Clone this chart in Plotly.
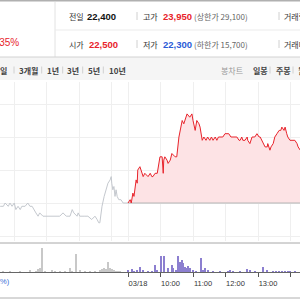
import plotly.graph_objects as go

# ---------------- data ----------------
base_price = 22500          # level the red area is filled from
prev_times = ["11:34","11:40","11:43","11:49","11:52","11:56","12:00","12:03","12:07","12:11",
              "12:14","12:20","12:25","12:29","12:33","12:36","12:40","12:44","12:47","12:53",
              "12:57","13:00","13:06","13:11","13:17","13:24","13:30","13:36","13:43","13:47",
              "13:50","13:56","13:58","14:01","14:09","14:16","14:23","14:29","14:33","14:36",
              "14:38","14:42","14:46","14:49","14:53","14:57","14:59","15:00","15:02","15:04",
              "15:06","15:08","15:10","15:13","15:17","15:21","15:26","15:30"]
prev_prices = [22450,22450,22500,22450,22500,22450,22500,22400,22450,22400,
               22450,22450,22500,22450,22450,22400,22350,22300,22350,22300,
               22300,22300,22300,22300,22300,22300,22350,22300,22300,22400,
               22350,22300,22350,22300,22300,22300,22250,22300,22250,22200,
               22200,22450,22600,22700,22800,22850,22900,22800,22700,22750,
               22600,22700,22600,22550,22550,22500,22500,22500]

today_times = ["09:00","09:04","09:06","09:09","09:11","09:15","09:17","09:18","09:22","09:24",
               "09:28","09:31","09:37","09:41","09:44","09:46","09:50","09:54","09:57","09:59",
               "10:03","10:05","10:06","10:08","10:12","10:14","10:18","10:21","10:27","10:30",
               "10:34","10:38","10:40","10:43","10:45","10:49","10:54","10:58","11:00","11:04",
               "11:07","11:11","11:13","11:17","11:20","11:24","11:27","11:31","11:34","11:37",
               "11:41","11:44","11:47","11:50","11:55","11:59","12:03","12:06","12:10","12:14",
               "12:17","12:21","12:25","12:27","12:30","12:32","12:36","12:40","12:41","12:45",
               "12:49","12:51","12:54","12:58","13:02","13:04","13:07","13:09","13:13","13:17",
               "13:18","13:22","13:24","13:28","13:31","13:35","13:39","13:42","13:44","13:48",
               "13:50","13:53","13:55","13:59","14:03","14:08","14:12","14:14","14:18"]
today_prices = [22500,22550,22500,22650,22600,22850,22800,23000,23050,23000,
                22900,22950,22900,22950,22900,22900,22950,22950,23150,23200,
                23200,22950,23150,23200,23150,23100,23150,23250,23200,23200,
                23500,23700,23750,23700,23750,23850,23800,23850,23750,23600,
                23750,23700,23650,23450,23500,23450,23500,23450,23500,23450,
                23500,23450,23500,23500,23500,23550,23550,23550,23500,23500,
                23500,23500,23450,23450,23500,23450,23450,23500,23450,23400,
                23500,23500,23500,23550,23500,23500,23450,23400,23350,23350,
                23400,23300,23350,23400,23500,23550,23600,23600,23650,23600,
                23650,23550,23500,23450,23450,23450,23400,23350,23300]

prev_vol_times = ["11:39","11:52","12:11","12:29","12:40","12:44","12:48","12:51","12:57","13:10",
                  "13:15","13:24","13:34","13:43","13:47","13:54","14:01","14:11","14:20","14:29",
                  "14:38","14:42","14:46","14:49","14:53","14:57","15:00","15:04","15:08","15:12","15:15"]
prev_vols = [1,1,1,2,1,3,4,24,1,2,
             1,1,1,4,1,18,2,1,1,1,
             2,3,4,3,10,4,3,2,1,1,1]
today_vol_times = ["09:00","09:07","09:11","09:16","09:22","09:28","09:37","09:44","09:50","09:53",
                   "10:01","10:06","10:14","10:21","10:23","10:29","10:33","10:36","10:39","10:42",
                   "10:45","10:48","10:51","10:54","11:00","11:06","11:15","11:18","11:22","11:28",
                   "11:37","11:50","12:05","12:08","12:14","12:27","12:40","12:45","12:54","13:09",
                   "13:16","13:28","13:33","13:39","13:44","13:50","13:55","13:59","14:08"]
today_vols = [2,3,1,2,5,2,1,1,7,2,
              16,16,4,7,4,2,16,10,12,9,
              5,4,6,4,2,1,14,2,4,2,
              1,1,1,2,1,1,3,2,1,5,
              2,1,1,1,1,1,1,1,1]

tick_times = ["09:00","10:00","11:00","12:00","13:00","14:00"]
tick_labels = ["03/18","10:00","11:00","12:00","13:00","14:00"]
prev_grid_times = ["12:00","13:00","14:00","15:00"]

# ---------------- helpers ----------------
def today_x(s):
    h, m = map(int, s.split(":"))
    return (h - 9) * 60 + m

def prev_x(s):
    h, m = map(int, s.split(":"))
    return h * 60 + m - (15 * 60 + 30)

def PX(x):
    return x / 300.0

def PY(y):
    return 1 - y / 300.0

RED = "#e8232b"
BLUE = "#2a5bd7"
KR = "Noto Sans CJK KR"
NUM = "Arial"

fig = go.Figure()

tx = [today_x(t) for t in today_times]
fig.add_trace(go.Scatter(x=[prev_x(t) for t in prev_times], y=prev_prices, mode="lines",
                         line=dict(color="#c4c8ce", width=1), hoverinfo="skip"))
fig.add_trace(go.Scatter(x=[tx[0], tx[-1]], y=[base_price, base_price], mode="lines",
                         line=dict(color="#b4b4b4", width=1), hoverinfo="skip"))
fig.add_trace(go.Scatter(x=tx, y=today_prices, mode="lines", fill="tonexty",
                         fillcolor="#fde3e5", line=dict(color=RED, width=1), hoverinfo="skip"))

fig.add_trace(go.Bar(x=[prev_x(t) for t in prev_vol_times], y=prev_vols, width=1.8,
                     marker=dict(color="#c8c8c8", line=dict(width=0)), xaxis="x2", yaxis="y2"))
fig.add_trace(go.Bar(x=[today_x(t) for t in today_vol_times], y=today_vols, width=1.8,
                     marker=dict(color="#8c7fd0", line=dict(width=0)), xaxis="x2", yaxis="y2"))

xr = [-236.3, 317.5]
tickvals = [today_x(t) for t in tick_times]

fig.update_layout(
    width=300, height=300, margin=dict(l=0, r=0, t=0, b=0),
    paper_bgcolor="white", plot_bgcolor="white", showlegend=False,
    xaxis=dict(domain=[0, 1], range=xr, tickmode="array", tickvals=tickvals,
               showticklabels=False, ticks="", showgrid=True, gridcolor="#efefef", gridwidth=1,
               zeroline=False, showline=False, anchor="y",
               minor=dict(tickmode="array", tickvals=[prev_x(t) for t in prev_grid_times],
                          showgrid=True, gridcolor="#efefef", gridwidth=1, ticks="")),
    yaxis=dict(domain=[PY(241), PY(82)], range=[21924.24, 24333.33], tick0=22000, dtick=500,
               showgrid=True, gridcolor="#efefef", showticklabels=False, zeroline=False,
               showline=False, anchor="x"),
    xaxis2=dict(domain=[0, 1], range=xr, matches="x", anchor="y2", tickmode="array",
                tickvals=tickvals, ticktext=tick_labels, ticks="outside", ticklen=4,
                tickcolor="#555", tickwidth=1, showgrid=False, zeroline=False,
                showline=True, linecolor="#666", linewidth=1, ticklabelshift=10,
                tickfont=dict(family=NUM, size=7.5, color="#333")),
    yaxis2=dict(domain=[PY(272), PY(244)], range=[0, 28], showgrid=False,
                showticklabels=False, zeroline=False, showline=False, anchor="x2"),
    bargap=0,
)

shapes = []
def hline(y, x0, x1, color, w=1):
    shapes.append(dict(type="line", xref="paper", yref="paper", x0=PX(x0), x1=PX(x1),
                       y0=PY(y), y1=PY(y), line=dict(color=color, width=w)))
def vline(x, y0, y1, color, w=1):
    shapes.append(dict(type="line", xref="paper", yref="paper", x0=PX(x), x1=PX(x),
                       y0=PY(y0), y1=PY(y1), line=dict(color=color, width=w)))

# header
hline(0.8, 0, 300, "#b0b0b0", 1.6)
vline(55, 2, 57, "#e2e2e2")
hline(30, 55, 300, "#ebebeb")
for xs in (137, 279):
    vline(xs, 12, 20, "#d0d0d0")
    vline(xs, 40, 48, "#d0d0d0")
# tab bar
shapes.append(dict(type="rect", xref="paper", yref="paper", x0=0, x1=1, y0=PY(80), y1=PY(57),
                   fillcolor="#f5f5f5", line=dict(width=0), layer="below"))
hline(57, 0, 300, "#d2d2d2")
for xs in (14, 41.7, 62.7, 82.7, 103.3, 270, 293):
    vline(xs, 66.5, 73.5, "#d0d0d0")
# panel borders
hline(243, 0, 300, "#a8a8a8")
hline(298, 0, 300, "#b0b0b0")

ann = []
def text(x, y, s, size=8, color="#333", family=KR, anchor="left"):
    dx = -1.5 if anchor == "left" else 1.5
    ann.append(dict(x=PX(x + dx), y=PY(y), xref="paper", yref="paper", text=s, showarrow=False,
                    xanchor=anchor, yanchor="middle", font=dict(family=family, size=size, color=color)))

text(19, 42, "+1.35%", 10, RED, NUM, "right")
text(68, 16, "전일")
text(87, 16, "<b>22,400</b>", 9.5, "#111", NUM)
text(142, 16, "고가")
text(162, 16, "<b>23,950</b>", 9.5, RED, NUM)
text(193, 16, "(상한가 29,100)", 8, "#666")
text(283, 16, "거래량")
text(68, 44, "시가")
text(88, 44, "<b>22,500</b>", 9.5, RED, NUM)
text(142, 44, "저가")
text(162, 44, "<b>22,300</b>", 9.5, BLUE, NUM)
text(193, 44, "(하한가 15,700)", 8, "#666")
text(283, 44, "거래대금")

text(7.5, 70, "<b>1주일</b>", 8, "#444", KR, "right")
for xs, s in [(18.3, "3개월"), (46.7, "1년"), (66.7, "3년"), (87.3, "5년"), (108.3, "10년")]:
    text(xs, 70, "<b>" + s + "</b>", 8, "#444")
text(220, 70, "봉차트", 8, "#999")
text(252, 70, "<b>일봉</b>", 8, "#444")
text(275, 70, "<b>주봉</b>", 8, "#444")
text(297, 70, "<b>월봉</b>", 8, "#444")

text(10, 281, "(0.52%)", 7.5, "#3b6fd6", NUM, "right")

fig.update_layout(shapes=shapes, annotations=ann)
fig.write_html("out.html")
